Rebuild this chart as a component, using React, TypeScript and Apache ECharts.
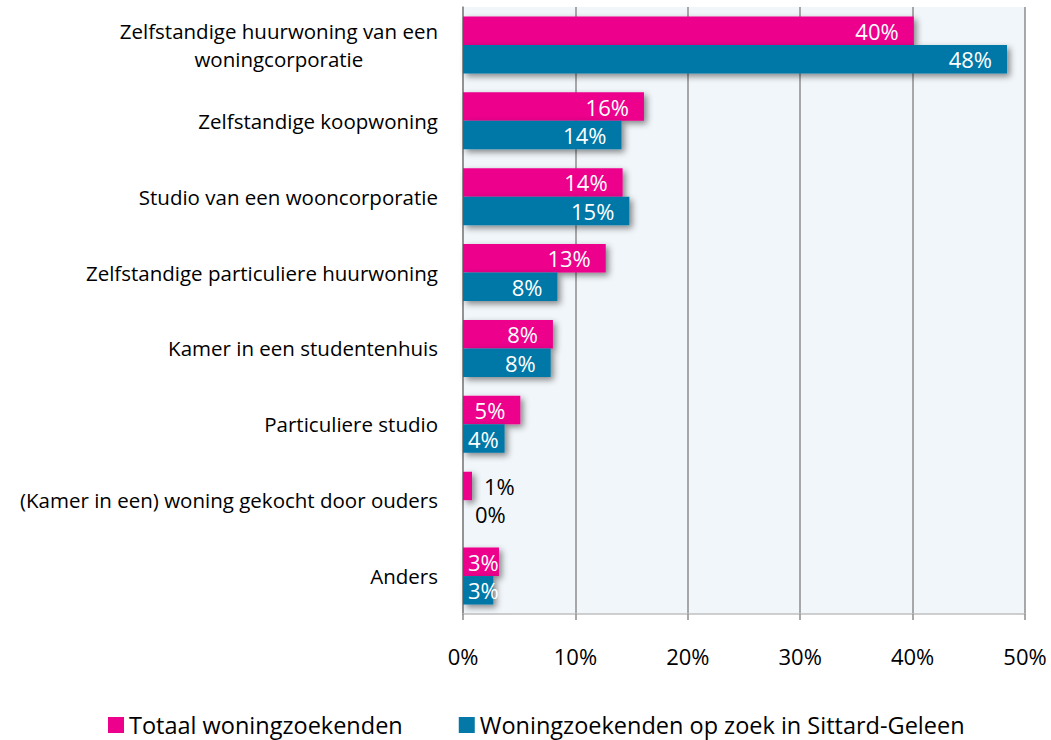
import React, { useEffect, useRef } from "react";
import * as echarts from "echarts";

const categories = [
  "Zelfstandige huurwoning van een woningcorporatie",
  "Zelfstandige koopwoning",
  "Studio van een wooncorporatie",
  "Zelfstandige particuliere huurwoning",
  "Kamer in een studentenhuis",
  "Particuliere studio",
  "(Kamer in een) woning gekocht door ouders",
  "Anders",
];
const categoryLines: Record<string, string[]> = {
  "Zelfstandige huurwoning van een woningcorporatie": ["Zelfstandige huurwoning van een", "woningcorporatie"],
};
const totaal = [40.1, 16.1, 14.2, 12.7, 8.0, 5.1, 0.8, 3.2];
const sittard = [48.4, 14.1, 14.8, 8.4, 7.8, 3.7, 0, 2.7];
const seriesNames = ["Totaal woningzoekenden", "Woningzoekenden op zoek in Sittard-Geleen"];
const xTicks = [0, 10, 20, 30, 40, 50];

const FONT = "Open Sans";
const PINK = "#EC008C";
const BLUE = "#0478A7";

const GRID_LEFT = 463;
const GRID_RIGHT = 26;
const CHART_W = 1051;
const PX_PER_UNIT = (CHART_W - GRID_LEFT - GRID_RIGHT) / (xTicks[xTicks.length - 1] - xTicks[0]);

function makeData(values: number[]) {
  return values.map((v) => {
    const txt = Math.round(v) + "%";
    const w = txt.length === 2 ? 33 : 45;
    const barPx = v * PX_PER_UNIT;
    if (v < 2) {
      return { value: v, label: { position: "right", color: "#000", distance: 12 } };
    }
    if (barPx - w - 15 < 5) {
      return { value: v, label: { position: "insideLeft", color: "#fff", distance: 5 } };
    }
    return { value: v, label: { position: "insideRight", color: "#fff", distance: 15 } };
  });
}

export default function App() {
  const ref = useRef<HTMLDivElement>(null);
  useEffect(() => {
    document.body.style.margin = "0";
    const chart = echarts.init(ref.current!, undefined, { renderer: "svg" });
    const barStyle = (color: string) => ({
      color,
      shadowBlur: 6,
      shadowOffsetX: 3,
      shadowOffsetY: 3,
      shadowColor: "rgba(0,0,0,0.45)",
    });
    const label = {
      show: true,
      fontSize: 22,
      fontFamily: FONT,
      formatter: (p: any) => Math.round(p.value) + "%",
    };
    chart.setOption({
      animation: false,
      backgroundColor: "#fff",
      textStyle: { fontFamily: FONT },
      grid: {
        left: GRID_LEFT,
        right: GRID_RIGHT,
        top: 7,
        bottom: 126,
        show: true,
        backgroundColor: "#F1F6FA",
        borderWidth: 0,
      },
      legend: {
        bottom: -2,
        left: 103,
        itemWidth: 16,
        itemHeight: 16,
        itemGap: 56,
        icon: "rect",
        textStyle: { fontSize: 23.5, color: "#000", fontFamily: FONT },
        data: seriesNames,
      },
      xAxis: {
        type: "value",
        min: xTicks[0],
        max: xTicks[xTicks.length - 1],
        interval: 10,
        axisLine: { show: true, lineStyle: { color: "#BFBFBF", width: 1.5 } },
        axisTick: { show: true, length: 6, lineStyle: { color: "#8C8C8C", width: 1.5 } },
        axisLabel: {
          margin: 31,
          fontSize: 22,
          color: "#000",
          fontFamily: FONT,
          formatter: (v: number) => v + "%",
        },
        splitLine: { show: true, lineStyle: { color: "#8C8C8C", width: 1.5 } },
      },
      yAxis: {
        type: "category",
        inverse: true,
        data: categories,
        axisLine: { show: true, lineStyle: { color: "#8C8C8C", width: 1.5 } },
        axisTick: { show: false },
        axisLabel: {
          margin: 25,
          fontSize: 20.5,
          color: "#000",
          fontFamily: FONT,
          lineHeight: 28,
          formatter: (v: string) => {
            const lines = categoryLines[v];
            if (lines) return lines.map((l) => "{c|" + l + "}").join("\n");
            return v;
          },
          rich: {
            c: { align: "center", fontSize: 20.5, lineHeight: 28, color: "#000", fontFamily: FONT },
          },
        },
      },
      series: [
        {
          name: seriesNames[0],
          type: "bar",
          data: makeData(totaal),
          barGap: "0%",
          barCategoryGap: "25%",
          itemStyle: barStyle(PINK),
          label,
        },
        {
          name: seriesNames[1],
          type: "bar",
          data: makeData(sittard),
          barGap: "0%",
          barCategoryGap: "25%",
          itemStyle: barStyle(BLUE),
          label,
        },
      ],
    });
    return () => chart.dispose();
  }, []);
  return <div ref={ref} style={{ width: CHART_W, height: 740 }} />;
}
